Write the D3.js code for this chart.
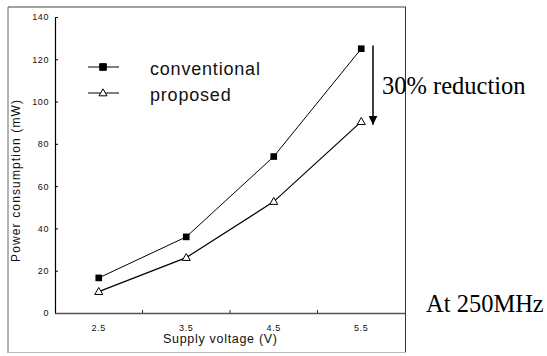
<!DOCTYPE html>
<html><head><meta charset="utf-8">
<script src="https://cdn.jsdelivr.net/npm/d3@7"></script>
<style>body{margin:0;background:#fff}svg{display:block}</style>
</head><body><svg id="c" width="547" height="356"></svg>
<script>
const categories = ["2.5","3.5","4.5","5.5"];
const conventional = [16.6, 36, 74, 125];
const proposed = [10.1, 26.2, 52.7, 90.5];
const yTicks = [0,20,40,60,80,100,120,140];
const seriesNames = ["conventional","proposed"];

const svg = d3.select("#c");
const x = d3.scaleBand().domain(categories).range([55,405]);
const y = d3.scaleLinear().domain([0,140]).range([313,17]);
const cx = c => x(c) + x.bandwidth()/2;

// outer frame
svg.append("line").attr("x1",8).attr("x2",406).attr("y1",7).attr("y2",7).attr("stroke","#444").attr("stroke-width",1);
svg.append("line").attr("x1",8).attr("x2",8).attr("y1",7).attr("y2",353).attr("stroke","#666").attr("stroke-width",1);
svg.append("line").attr("x1",405.5).attr("x2",405.5).attr("y1",7).attr("y2",353).attr("stroke","#333").attr("stroke-width",1);
svg.append("line").attr("x1",8).attr("x2",406).attr("y1",352.5).attr("y2",352.5).attr("stroke","#bbb").attr("stroke-width",1);

// y axis
const ya = svg.append("g").attr("transform","translate(55,0)")
  .call(d3.axisLeft(y).tickValues(yTicks).tickSizeInner(-3).tickSizeOuter(0).tickPadding(6));
ya.select(".domain").attr("stroke","#000").attr("stroke-width",1.2);
ya.selectAll("text").attr("font-family","Liberation Sans, Arial, sans-serif").attr("font-size",9).attr("letter-spacing",0.6).attr("fill","#111");

// x axis
const xa = svg.append("g").attr("transform","translate(0,313)")
  .call(d3.axisBottom(x).tickSizeInner(0).tickSizeOuter(0).tickPadding(12));
xa.select(".domain").attr("stroke","#555").attr("stroke-width",1.6);
xa.selectAll("text").attr("font-family","Liberation Sans, Arial, sans-serif").attr("font-size",9).attr("letter-spacing",0.6).attr("fill","#111");
svg.append("g").selectAll("line").data(categories.slice(1)).join("line")
  .attr("x1",d=>x(d)).attr("x2",d=>x(d)).attr("y1",313).attr("y2",310).attr("stroke","#333");

// axis titles
svg.append("text").attr("transform","translate(20,181) rotate(-90)").attr("text-anchor","middle")
  .attr("font-family","Liberation Sans, Arial, sans-serif").attr("font-size",12).attr("fill","#111")
  .attr("textLength",162).attr("lengthAdjust","spacing").text("Power consumption (mW)");
svg.append("text").attr("x",220).attr("y",343).attr("text-anchor","middle")
  .attr("font-family","Liberation Sans, Arial, sans-serif").attr("font-size",12.5).attr("fill","#111")
  .attr("textLength",114).attr("lengthAdjust","spacing").text("Supply voltage (V)");

// lines
const line = d3.line().x((d,i)=>cx(categories[i])).y(d=>y(d));
svg.append("path").datum(conventional).attr("d",line).attr("fill","none").attr("stroke","#000").attr("stroke-width",1);
svg.append("path").datum(proposed).attr("d",line).attr("fill","none").attr("stroke","#000").attr("stroke-width",1.2);

const sq = d3.symbol().type(d3.symbolSquare).size(44);
const tri = d3.symbol().type(d3.symbolTriangle).size(28);
svg.append("g").selectAll("path").data(conventional).join("path")
  .attr("d",sq).attr("transform",(d,i)=>`translate(${cx(categories[i])},${y(d)})`).attr("fill","#000");
svg.append("g").selectAll("path").data(proposed).join("path")
  .attr("d",tri).attr("transform",(d,i)=>`translate(${cx(categories[i])},${y(d)+0.5})`).attr("fill","#fff").attr("stroke","#000").attr("stroke-width",1);

// legend
const lg = svg.append("g");
const legY = [67, 93];
seriesNames.forEach((n,i)=>{
  lg.append("line").attr("x1",88).attr("x2",119).attr("y1",legY[i]).attr("y2",legY[i]).attr("stroke","#000").attr("stroke-width",1);
  lg.append("path").attr("d", i===0?sq:tri).attr("transform",`translate(103,${legY[i]+(i?0.5:0)})`)
    .attr("fill", i===0?"#000":"#fff").attr("stroke","#000").attr("stroke-width",1);
  lg.append("text").attr("x",150).attr("y",legY[i]+8).attr("font-family","Liberation Sans, Arial, sans-serif")
    .attr("font-size",18).attr("letter-spacing",0.8).attr("fill","#111").text(n);
});

// annotation arrow
svg.append("defs").append("marker").attr("id","ah").attr("viewBox","0 0 10 10").attr("refX",10).attr("refY",5)
  .attr("markerWidth",9).attr("markerHeight",9).attr("markerUnits","userSpaceOnUse").attr("orient","auto")
  .append("path").attr("d","M0,0L10,5L0,10Z").attr("fill","#000");
svg.append("line").attr("x1",373).attr("x2",373).attr("y1",y(126)-1).attr("y2",y(90)+2)
  .attr("stroke","#000").attr("stroke-width",1.5).attr("marker-end","url(#ah)");
svg.append("text").attr("x",382).attr("y",94).attr("font-family","Liberation Serif, Times New Roman, serif")
  .attr("font-size",24.5).attr("fill","#000").text("30% reduction");
svg.append("text").attr("x",426).attr("y",312).attr("font-family","Liberation Serif, Times New Roman, serif")
  .attr("font-size",24.5).attr("fill","#000").text("At 250MHz");
</script></body></html>
